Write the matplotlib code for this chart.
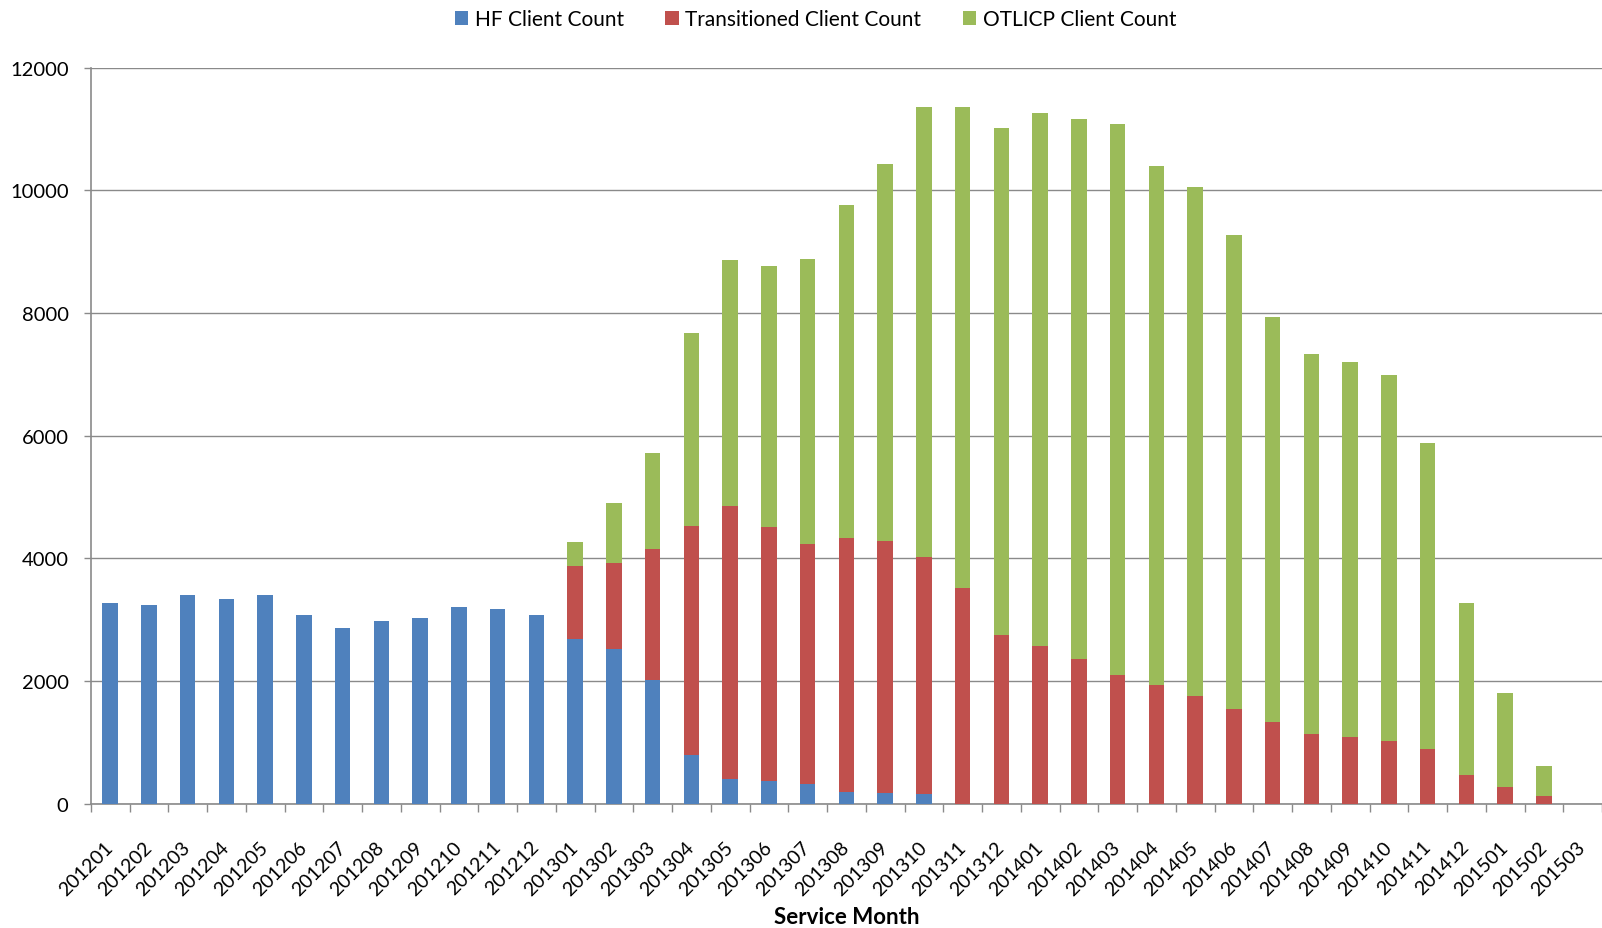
import numpy as np
import matplotlib
matplotlib.use("Agg")
from matplotlib import pyplot as plt
from matplotlib.ticker import MultipleLocator

plt.rcParams['font.family'] = ['Lato', 'DejaVu Sans']

months = ['201201', '201202', '201203', '201204', '201205', '201206', '201207', '201208',
          '201209', '201210', '201211', '201212', '201301', '201302', '201303', '201304',
          '201305', '201306', '201307', '201308', '201309', '201310', '201311', '201312',
          '201401', '201402', '201403', '201404', '201405', '201406', '201407', '201408',
          '201409', '201410', '201411', '201412', '201501', '201502', '201503']

hf = [3266, 3233, 3401, 3342, 3401, 3081, 2870, 2984, 3021, 3212, 3174, 3081,
      2690, 2521, 2011, 793, 396, 363, 320, 190, 170, 152, 0, 0,
      0, 0, 0, 0, 0, 0, 0, 0, 0, 0, 0, 0, 0, 0, 0]

transitioned = [0, 0, 0, 0, 0, 0, 0, 0, 0, 0, 0, 0,
                1179, 1408, 2141, 3729, 4452, 4142, 3908, 4147, 4112, 3863, 3508, 2741,
                2574, 2361, 2103, 1936, 1748, 1545, 1337, 1132, 1091, 1022, 892, 460, 267, 123, 0]

otlicp = [0, 0, 0, 0, 0, 0, 0, 0, 0, 0, 0, 0,
          391, 973, 1571, 3158, 4019, 4261, 4655, 5420, 6151, 7352, 7844, 8276,
          8686, 8801, 8983, 8459, 8313, 7727, 6599, 6200, 6111, 5960, 4986, 2805, 1537, 481, 0]

series_names = ['HF Client Count', 'Transitioned Client Count', 'OTLICP Client Count']
colors = ['#4F81BD', '#C0504D', '#9BBB59']

fig = plt.figure(figsize=(16.02, 9.29), dpi=100)
ax = fig.add_axes([0.0567, 0.134, 0.9433, 0.792])

x = np.arange(len(months))
hf = np.array(hf)
transitioned = np.array(transitioned)
otlicp = np.array(otlicp)

w = 0.4
ax.bar(x, hf, w, color=colors[0], label=series_names[0], zorder=3)
ax.bar(x, transitioned, w, bottom=hf, color=colors[1], label=series_names[1], zorder=3)
ax.bar(x, otlicp, w, bottom=hf + transitioned, color=colors[2], label=series_names[2], zorder=3)

ax.set_xlim(-0.5, len(months) - 0.5)
ax.set_ylim(0, 12000)
ax.yaxis.set_major_locator(MultipleLocator(2000))
ax.yaxis.grid(True, color='#8a8a8a', linewidth=1.0, zorder=0)

# category labels at centres, tick marks at boundaries
ax.set_xticks(x)
ax.set_xticklabels(months, rotation=45, ha='right', va='center', rotation_mode='anchor', fontsize=14)
ax.set_xticks(np.arange(len(months) + 1) - 0.5, minor=True)
ax.tick_params(axis='x', which='major', length=0, pad=29)
ax.tick_params(axis='x', which='minor', length=6, color='#8a8a8a', width=1)
ax.tick_params(axis='y', length=5, color='#8a8a8a', width=1, labelsize=14.5, pad=11)

for s in ['top', 'right']:
    ax.spines[s].set_visible(False)
for s in ['left', 'bottom']:
    ax.spines[s].set_color('#8a8a8a')
    ax.spines[s].set_linewidth(1.2)

ax.set_xlabel('Service Month', fontsize=16, fontweight='bold')
ax.xaxis.set_label_coords(0.5, -0.139)

fig.legend(loc='center', bbox_to_anchor=(0.509, 1 - 20 / 929), ncol=3, frameon=False,
           fontsize=15, handlelength=0.65, handleheight=0.65, handletextpad=0.3,
           columnspacing=2.0, borderpad=0)

fig.savefig('out.png', dpi=100)
